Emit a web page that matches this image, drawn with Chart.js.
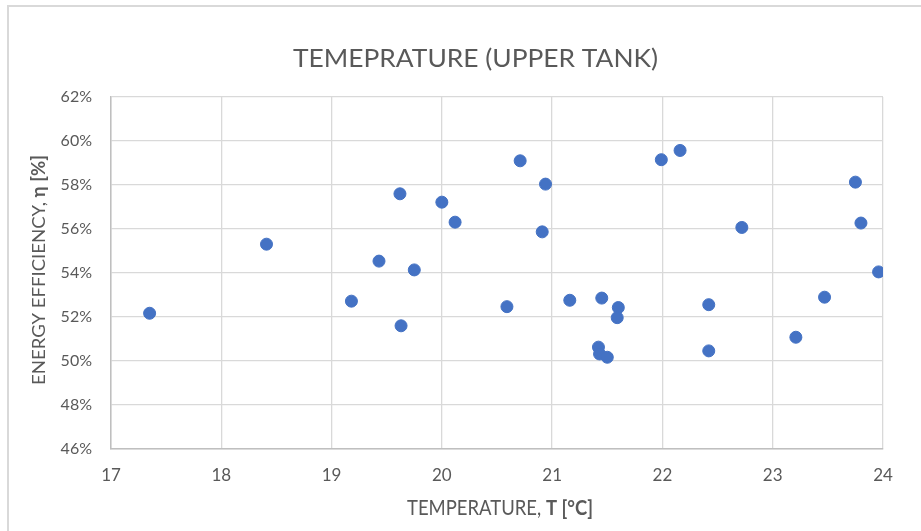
<!DOCTYPE html>
<html>
<head>
<meta charset="utf-8">
<script src="https://cdn.jsdelivr.net/npm/chart.js@4.4.1/dist/chart.umd.min.js"></script>
<style>
  html, body { margin: 0; padding: 0; background: #fff; }
  #wrap { width: 921px; height: 531px; position: relative; }
</style>
</head>
<body>
<div id="wrap"><canvas id="chart1"></canvas></div>
<script>
// Dados
const temperatura = [
  17.35, 18.41, 19.62, 20.0, 20.12, 19.43, 19.75, 19.18, 19.63,
  20.71, 20.94, 20.91, 20.59, 21.16, 21.45, 21.6, 21.59, 21.42, 21.43, 21.5,
  21.99, 22.16, 22.42, 22.42, 22.72, 23.21, 23.47, 23.75, 23.8, 23.96
];
const eficiencia = [
  52.17, 55.31, 57.6, 57.22, 56.31, 54.54, 54.14, 52.72, 51.6,
  59.1, 58.04, 55.87, 52.47, 52.76, 52.86, 52.43, 51.97, 50.63, 50.32, 50.17,
  59.15, 59.57, 52.56, 50.46, 56.07, 51.08, 52.9, 58.13, 56.27, 54.05
];
const xTicks = [17, 18, 19, 20, 21, 22, 23, 24];
const yTicks = [46, 48, 50, 52, 54, 56, 58, 60, 62];

const titulo = "TEMEPRATURE (UPPER TANK)";
const tituloX = [["TEMPERATURE, ", false], ["T [°C]", true]];
const tituloY = [["ENERGY EFFICIENCY, ", false], ["η [%]", true]];

const pontos = temperatura.map((t, i) => ({ x: t, y: eficiencia[i] }));

const FONTE = "Lato, 'Open Sans', sans-serif";
const CINZA = "#595959";

// escreve texto com partes em negrito, ajustado a uma largura
function escreverTexto(ctx, partes, cx, cy, tamanho, largura, rotacao) {
  ctx.save();
  let total = 0;
  partes.forEach(([txt, negrito]) => {
    ctx.font = (negrito ? "bold " : "") + tamanho + "px " + FONTE;
    total += ctx.measureText(txt).width;
  });
  ctx.translate(cx, cy);
  if (rotacao) ctx.rotate(rotacao);
  ctx.scale(largura / total, 1);
  ctx.fillStyle = CINZA;
  ctx.textBaseline = "alphabetic";
  ctx.textAlign = "left";
  let x = -total / 2;
  partes.forEach(([txt, negrito]) => {
    ctx.font = (negrito ? "bold " : "") + tamanho + "px " + FONTE;
    ctx.fillText(txt, x, 0);
    x += ctx.measureText(txt).width;
  });
  ctx.restore();
}

const textosPlugin = {
  id: "textos",
  beforeDraw(chart) {
    const ctx = chart.ctx;
    ctx.save();
    ctx.fillStyle = "#fff";
    ctx.fillRect(0, 0, chart.width, chart.height);
    ctx.strokeStyle = "#d9d9d9";
    ctx.lineWidth = 2;
    ctx.strokeRect(8, 6, 960, 560);
    ctx.restore();
  },
  afterDraw(chart) {
    const ctx = chart.ctx;
    escreverTexto(ctx, [[titulo, false]], 475.5, 67, 25, 365, 0);
    escreverTexto(ctx, tituloX, 500, 515, 21, 186, 0);
    escreverTexto(ctx, tituloY, 45, 270, 18, 230, -Math.PI / 2);
  }
};

new Chart(document.getElementById("chart1"), {
  type: "scatter",
  data: {
    datasets: [
      {
        label: "",
        data: pontos,
        backgroundColor: "#4472c4",
        borderColor: "#4472c4",
        pointRadius: 6,
        pointHoverRadius: 6,
      },
    ],
  },
  options: {
    responsive: true,
    maintainAspectRatio: false,
    animation: false,
    layout: { padding: { top: 97, right: 38, left: 0, bottom: 0 } },
    plugins: {
      legend: { display: false },
      tooltip: { enabled: false },
    },
    scales: {
      x: {
        type: "linear",
        min: xTicks[0],
        max: xTicks[xTicks.length - 1],
        afterBuildTicks: (s) => { s.ticks = xTicks.map((v) => ({ value: v })); },
        afterFit: (s) => { s.height = 82; },
        ticks: {
          color: CINZA,
          font: { family: FONTE, size: 17 },
          padding: 16,
        },
        grid: { color: "#d9d9d9", lineWidth: 1.3, drawTicks: false },
        border: { color: "#bfbfbf", width: 1.5 },
      },
      y: {
        min: yTicks[0],
        max: yTicks[yTicks.length - 1],
        afterBuildTicks: (s) => { s.ticks = yTicks.map((v) => ({ value: v })); },
        afterFit: (s) => { s.width = 111; },
        ticks: {
          color: CINZA,
          font: { family: FONTE, size: 16 },
          padding: 19,
          callback: (v) => v + "%",
        },
        grid: { color: "#d9d9d9", lineWidth: 1.3, drawTicks: false },
        border: { color: "#bfbfbf", width: 1.5 },
      },
    },
  },
  plugins: [textosPlugin],
});
</script>
</body>
</html>
